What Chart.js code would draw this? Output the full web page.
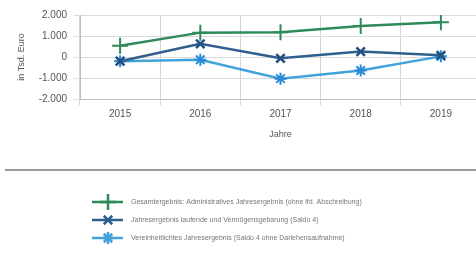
<!DOCTYPE html>
<html>
<head>
<meta charset="utf-8">
<script src="https://cdn.jsdelivr.net/npm/chart.js@4/dist/chart.umd.min.js"></script>
<style>
  html, body { margin: 0; padding: 0; background: #fff; overflow: hidden; }
  #wrap { width: 491px; height: 259px; }
</style>
</head>
<body>
<div id="wrap"><canvas id="chart" width="491" height="259"></canvas></div>
<script>
  // data (Tsd. Euro)
  var years = ['2015', '2016', '2017', '2018', '2019'];
  var gesamt = [540, 1160, 1180, 1480, 1650];
  var laufend = [-200, 630, -60, 260, 80];
  var vereinheitlicht = [-200, -130, -1030, -640, 30];
  var seriesNames = [
    'Gesamtergebnis: Administratives Jahresergebnis (ohne lfd. Abschreibung)',
    'Jahresergebnis laufende und Vermögensgebarung (Saldo 4)',
    'Vereinheitlichtes Jahresergebnis (Saldo 4 ohne Darlehensaufnahme)'
  ];
  var yTicks = [-2000, -1000, 0, 1000, 2000];

  var fmt = function (v) {
    var s = Math.abs(v).toString().replace(/\B(?=(\d{3})+(?!\d))/g, '.');
    return (v < 0 ? '-' : '') + s;
  };

  // legend drawn below the separator line
  var legendPlugin = {
    id: 'legendRows',
    afterDraw: function (chart) {
      var ctx = chart.ctx;
      ctx.save();
      // separator
      ctx.strokeStyle = '#9a9a9a';
      ctx.lineWidth = 2;
      ctx.beginPath();
      ctx.moveTo(5, 170);
      ctx.lineTo(491, 170);
      ctx.stroke();

      var rowY = [202, 220, 238];
      chart.data.datasets.forEach(function (ds, i) {
        var y = rowY[i];
        ctx.strokeStyle = ds.borderColor;
        ctx.lineWidth = 2.5;
        ctx.beginPath();
        ctx.moveTo(92, y);
        ctx.lineTo(123, y);
        ctx.stroke();
        Chart.helpers.drawPoint(ctx, {
          pointStyle: ds.pointStyle,
          radius: ds.pointRadius,
          borderWidth: ds.pointBorderWidth,
          rotation: 0
        }, 108, y);
        ctx.fillStyle = '#777';
        ctx.font = '7px "Liberation Sans", Arial, sans-serif';
        ctx.textBaseline = 'middle';
        ctx.fillText(ds.label, 131, y);
      });
      ctx.restore();
    }
  };

  var ctx = document.getElementById('chart').getContext('2d');
  new Chart(ctx, {
    type: 'line',
    data: {
      labels: years,
      datasets: [
        {
          label: seriesNames[0],
          data: gesamt,
          borderColor: '#2f8a5a',
          backgroundColor: '#2f8a5a',
          borderWidth: 2.5,
          pointStyle: 'cross',
          pointRadius: 8,
          pointBorderWidth: 2,
          pointBorderColor: '#2f8a5a'
        },
        {
          label: seriesNames[1],
          data: laufend,
          borderColor: '#2f5f8f',
          backgroundColor: '#2f5f8f',
          borderWidth: 2.5,
          pointStyle: 'crossRot',
          pointRadius: 6,
          pointBorderWidth: 2.5,
          pointBorderColor: '#24507e'
        },
        {
          label: seriesNames[2],
          data: vereinheitlicht,
          borderColor: '#42a2da',
          backgroundColor: '#42a2da',
          borderWidth: 2.5,
          pointStyle: 'star',
          pointRadius: 6,
          pointBorderWidth: 2,
          pointBorderColor: '#2a8ad8'
        }
      ]
    },
    options: {
      responsive: false,
      animation: false,
      layout: { padding: { left: 0, right: 2, top: 15, bottom: 115 } },
      plugins: {
        legend: { display: false },
        tooltip: { enabled: false }
      },
      scales: {
        x: {
          offset: true,
          afterFit: function (s) { s.height = 45; },
          grid: { offset: true, color: '#d4d4d4', tickLength: 6, lineWidth: 1 },
          border: { color: '#bdbdbd' },
          ticks: {
            color: '#555',
            padding: 3,
            font: { size: 10, family: '"Liberation Sans", Arial, sans-serif' }
          },
          title: {
            display: true,
            text: 'Jahre',
            color: '#555',
            padding: { top: 0, bottom: 4 },
            font: { size: 9, family: '"Liberation Sans", Arial, sans-serif' }
          }
        },
        y: {
          min: -2000,
          max: 2000,
          afterFit: function (s) { s.width = 80; },
          afterBuildTicks: function (s) {
            s.ticks = yTicks.map(function (v) { return { value: v }; });
          },
          grid: { color: '#dcdcdc', tickLength: 6, lineWidth: 1 },
          border: { color: '#bdbdbd' },
          ticks: {
            color: '#555',
            padding: 7,
            callback: function (v) { return fmt(v); },
            font: { size: 10, family: '"Liberation Sans", Arial, sans-serif' }
          },
          title: {
            display: true,
            text: 'in Tsd. Euro',
            color: '#555',
            padding: { top: 16, bottom: 0 },
            font: { size: 9, family: '"Liberation Sans", Arial, sans-serif' }
          }
        }
      }
    },
    plugins: [legendPlugin]
  });
</script>
</body>
</html>
